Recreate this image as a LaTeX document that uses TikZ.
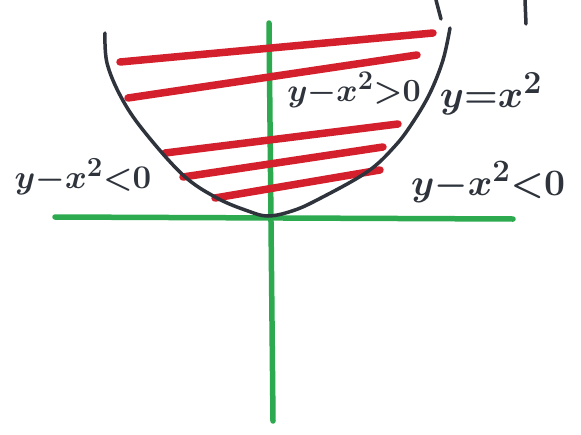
\documentclass[tikz,border=0pt]{standalone}
\usepackage{amsmath}
\begin{document}
\begin{tikzpicture}[x=1pt,y=-1pt,
  axis/.style={draw=axisgreen,line width=5.5pt,line cap=round},
  hatch/.style={draw=hatchred,line width=7.5pt,line cap=round},
  curve/.style={draw=inkgray,line width=3.5pt,line cap=round},
  lbl/.style={text=inkgray,inner sep=0pt,font=\Huge\boldmath}]
\definecolor{axisgreen}{HTML}{2DAA4F}
\definecolor{hatchred}{HTML}{D41F2C}
\definecolor{inkgray}{HTML}{2E333C}
\useasboundingbox[fill=white] (0,0) rectangle (581,434);
% axes
\coordinate (vt) at (269,23);
\coordinate (vb) at (273,421);
\coordinate (hl) at (55,217);
\coordinate (hr) at (513,219);
\draw[axis] (hl) -- (hr);
\draw[axis] (vt) -- (vb);
% red hatching
\coordinate (r1a) at (120,62); \coordinate (r1b) at (433,33);
\coordinate (r2a) at (128,98); \coordinate (r2b) at (417,55);
\coordinate (r3a) at (165,153); \coordinate (r3b) at (398,124);
\coordinate (r4a) at (183,177); \coordinate (r4b) at (383,147);
\coordinate (r5a) at (215,198); \coordinate (r5b) at (380,170);
\draw[hatch] (r1a) -- (r1b);
\draw[hatch] (r2a) -- (r2b);
\draw[hatch] (r3a) -- (r3b);
\draw[hatch] (r4a) -- (r4b);
\draw[hatch] (r5a) -- (r5b);
% parabola
\draw[curve] plot[smooth,tension=0.6] coordinates {(105,33) (107,63) (121,97) (143,130) (183,175) (217,198) (248,211) (268,216) (292,211) (317,200) (367,172) (395,146) (413,122) (430,93) (443,60) (450,28)};
% cut-off strokes at top
\coordinate (s1a) at (436,0); \coordinate (s1b) at (441,19);
\coordinate (s2a) at (525,0); \coordinate (s2b) at (526,24);
\draw[curve] (s1a) -- (s1b);
\draw[curve] (s2a) -- (s2b);
% labels
\node[lbl] (gt) at (354,90) {\scalebox{1.3}{$y{-}x^2{>}0$}};
\node[lbl] (eq) at (491,94) {\scalebox{1.55}{$y{=}x^2$}};
\node[lbl] (ltl) at (83,177) {\scalebox{1.33}{$y{-}x^2{<}0$}};
\node[lbl] (ltr) at (488,182) {\scalebox{1.5}{$y{-}x^2{<}0$}};
\end{tikzpicture}
\end{document}
